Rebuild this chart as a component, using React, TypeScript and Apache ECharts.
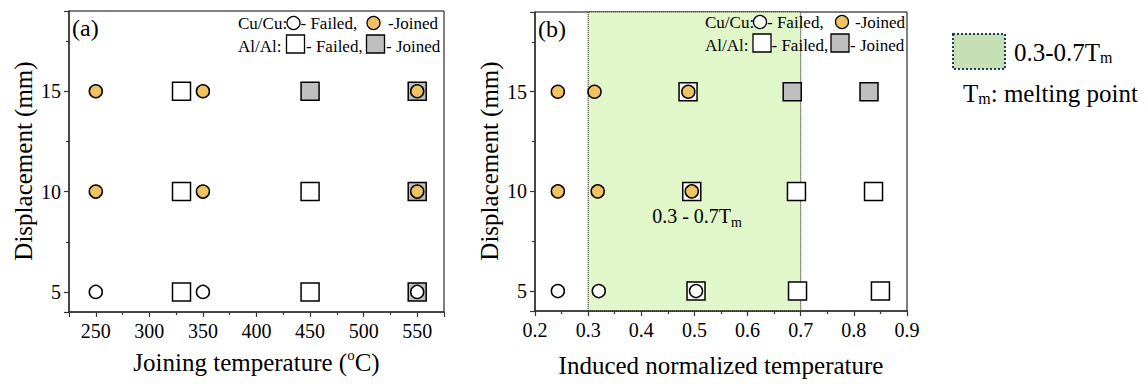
import React, { useEffect, useRef } from "react";
import * as echarts from "echarts";

const FONT = "Liberation Serif";

// ---- Panel (a): joining temperature (°C) vs displacement (mm)
const aAlFailed = [[330, 5], [330, 10], [330, 15], [450, 5], [450, 10]];
const aAlJoined = [[450, 15], [550, 5], [550, 10], [550, 15]];
const aCuFailed = [[250, 5], [350, 5], [550, 5]];
const aCuJoined = [[250, 10], [250, 15], [350, 10], [350, 15], [550, 10], [550, 15]];
const aXRange = [225, 575];

// ---- Panel (b): induced normalized temperature vs displacement (mm)
const bAlFailed = [[0.488, 15], [0.495, 10], [0.503, 5], [0.692, 10], [0.694, 5], [0.837, 10], [0.85, 5]];
const bAlJoined = [[0.684, 15], [0.8285, 15]];
const bCuFailed = [[0.243, 5], [0.32, 5], [0.503, 5]];
const bCuJoined = [[0.243, 10], [0.243, 15], [0.318, 10], [0.312, 15], [0.495, 10], [0.4885, 15]];
const bXRange = [0.2, 0.9];
const homologousRange = [0.3, 0.7];

const yRange = [4, 19];

const ORANGE = "#f0c262";
const GREY = "#bfbfbf";
const GREEN = "#e2f7c9";

const tickLine = { color: "#333", width: 1.2 };
const labelStyle = { fontSize: 20, fontFamily: FONT, color: "#000" };

function xAxis(gridIndex: number, range: number[], splitNumber: number, showEnds: boolean, fmt: (v: number) => string) {
  return {
    type: "value", gridIndex, position: "bottom", min: range[0], max: range[1], splitNumber, z: 3,
    axisLine: { show: true, onZero: false, lineStyle: { color: "#333", width: 1.5 } },
    axisTick: { show: true, length: 5, lineStyle: tickLine },
    minorTick: { show: true, splitNumber: 2, length: 3, lineStyle: tickLine },
    axisLabel: { show: true, showMinLabel: showEnds, showMaxLabel: showEnds, ...labelStyle, margin: 9, formatter: fmt },
    splitLine: { show: false },
    minorSplitLine: { show: false },
  };
}

function yAxis(gridIndex: number) {
  return {
    type: "value", gridIndex, position: "left", min: yRange[0], max: yRange[1], splitNumber: 3, z: 3,
    axisLine: { show: true, onZero: false, lineStyle: { color: "#333", width: 1.5 } },
    axisTick: { show: true, length: 5, lineStyle: tickLine },
    minorTick: { show: true, splitNumber: 2, length: 3, lineStyle: tickLine },
    axisLabel: { show: true, showMinLabel: false, showMaxLabel: false, ...labelStyle, margin: 8 },
    splitLine: { show: false },
    minorSplitLine: { show: false },
  };
}

function sq(data: number[][], fill: string, gi: number) {
  return {
    type: "scatter", xAxisIndex: gi, yAxisIndex: gi, data, symbol: "rect", symbolSize: 18, z: 4,
    itemStyle: { color: fill, borderColor: "#000", borderWidth: 1.5, opacity: 1 },
  };
}
function ci(data: number[][], fill: string, gi: number) {
  return {
    type: "scatter", xAxisIndex: gi, yAxisIndex: gi, data, symbol: "circle", symbolSize: 13, z: 5,
    itemStyle: { color: fill, borderColor: "#000", borderWidth: 1.5, opacity: 1 },
  };
}

function txt(x: number, y: number, text: string, fontSize: number, extra: any = {}) {
  return {
    type: "text", x, y, z: 10,
    style: { text, fontSize, fontFamily: FONT, fill: "#000", align: "left", verticalAlign: "middle", ...extra },
  };
}
function circ(cx: number, cy: number, fill: string) {
  return { type: "circle", z: 10, shape: { cx, cy, r: 6.5 }, style: { fill, stroke: "#000", lineWidth: 1.3 } };
}
function box(cx: number, cy: number, fill: string) {
  return { type: "rect", z: 10, shape: { x: cx - 9, y: cy - 9, width: 18, height: 18 }, style: { fill, stroke: "#000", lineWidth: 1.3 } };
}

function legendGroup(x0: number, r1: number, r2: number, pos: any) {
  return [
    txt(x0, r1, "Cu/Cu:", 17),
    circ(pos.c1, r1, "#fff"),
    txt(pos.t1, r1, "- Failed,", 17),
    circ(pos.c2, r1, ORANGE),
    txt(pos.t2, r1, "-Joined", 17),
    txt(x0, r2 + 1, "Al/Al:", 17),
    box(pos.s1, r2 - 1, "#fff"),
    txt(pos.t3, r2 + 1, "- Failed,", 17),
    box(pos.s2, r2 - 1, GREY),
    txt(pos.t4, r2 + 1, "- Joined", 17),
  ];
}

export default function App() {
  const ref = useRef<HTMLDivElement>(null);
  useEffect(() => {
    if (!ref.current) return;
    const chart = echarts.init(ref.current, null, { renderer: "svg" });
    const option: any = {
      animation: false,
      backgroundColor: "#fff",
      textStyle: { fontFamily: FONT, color: "#000" },
      grid: [
        { left: 69, top: 11, width: 375, height: 301, show: true, borderColor: "#000", borderWidth: 1, backgroundColor: "transparent" },
        { left: 535, top: 12, width: 372, height: 299, show: true, borderColor: "#000", borderWidth: 1, backgroundColor: "transparent" },
      ],
      xAxis: [
        xAxis(0, aXRange, 7, false, (v: number) => String(v)),
        xAxis(1, bXRange, 7, true, (v: number) => v.toFixed(1)),
      ],
      yAxis: [yAxis(0), yAxis(1)],
      series: [
        {
          type: "line", xAxisIndex: 1, yAxisIndex: 1, data: [], z: 1, silent: true,
          markArea: {
            silent: true,
            itemStyle: { color: GREEN, borderColor: "#000", borderWidth: 1, borderType: "dotted" },
            data: [[{ xAxis: homologousRange[0] }, { xAxis: homologousRange[1] }]],
          },
        },
        sq(aAlFailed, "#fff", 0),
        sq(aAlJoined, GREY, 0),
        ci(aCuFailed, "#fff", 0),
        ci(aCuJoined, ORANGE, 0),
        sq(bAlFailed, "#fff", 1),
        sq(bAlJoined, GREY, 1),
        ci(bCuFailed, "#fff", 1),
        ci(bCuJoined, ORANGE, 1),
      ],
      graphic: [
        // axis titles
        txt(256.5, 362, "{n|Joining temperature (}{p|o}{n|C)}", 25, {
          align: "center",
          rich: { n: { fontSize: 25, fontFamily: FONT }, p: { fontSize: 15, fontFamily: FONT, padding: [0, 0, 14, 0] } },
        }),
        txt(721, 365, "Induced normalized temperature", 25, { align: "center" }),
        { ...txt(23, 161, "Displacement (mm)", 25, { align: "center" }), rotation: Math.PI / 2 },
        { ...txt(489, 161, "Displacement (mm)", 25, { align: "center" }), rotation: Math.PI / 2 },
        // panel tags
        txt(72, 28, "(a)", 24),
        txt(538, 29, "(b)", 24),
        // in-plot legends
        ...legendGroup(238, 23, 45, { c1: 293.5, t1: 300.5, c2: 373.5, t2: 388, s1: 295.5, t3: 306, s2: 375.5, t4: 386 }),
        ...legendGroup(705, 22, 44, { c1: 760, t1: 767, c2: 842, t2: 855, s1: 762, t3: 771.5, s2: 840, t4: 850 }),
        // range annotation
        txt(697, 216, "{n|0.3 - 0.7T}{s|m}", 20, {
          align: "center",
          rich: { n: { fontSize: 20, fontFamily: FONT }, s: { fontSize: 14, fontFamily: FONT, padding: [12, 0, 0, 0] } },
        }),
        // right-side legend
        {
          type: "rect", z: 10, shape: { x: 953, y: 34, width: 52, height: 35 },
          style: { fill: "#c5e0b4", stroke: "#1f3864", lineWidth: 2, lineDash: [2, 2] },
        },
        txt(1014, 52, "{n|0.3-0.7T}{s|m}", 25, {
          rich: { n: { fontSize: 25, fontFamily: FONT }, s: { fontSize: 16, fontFamily: FONT, padding: [10, 0, 0, 0] } },
        }),
        txt(963, 93, "{n|T}{s|m}{n|: melting point}", 25, {
          rich: { n: { fontSize: 25, fontFamily: FONT }, s: { fontSize: 16, fontFamily: FONT, padding: [10, 0, 0, 0] } },
        }),
      ],
    };
    chart.setOption(option);
    return () => chart.dispose();
  }, []);
  return (
    <div
      ref={ref}
      style={{ position: "absolute", left: 0, top: 0, width: 1148, height: 384, background: "#fff" }}
    />
  );
}
